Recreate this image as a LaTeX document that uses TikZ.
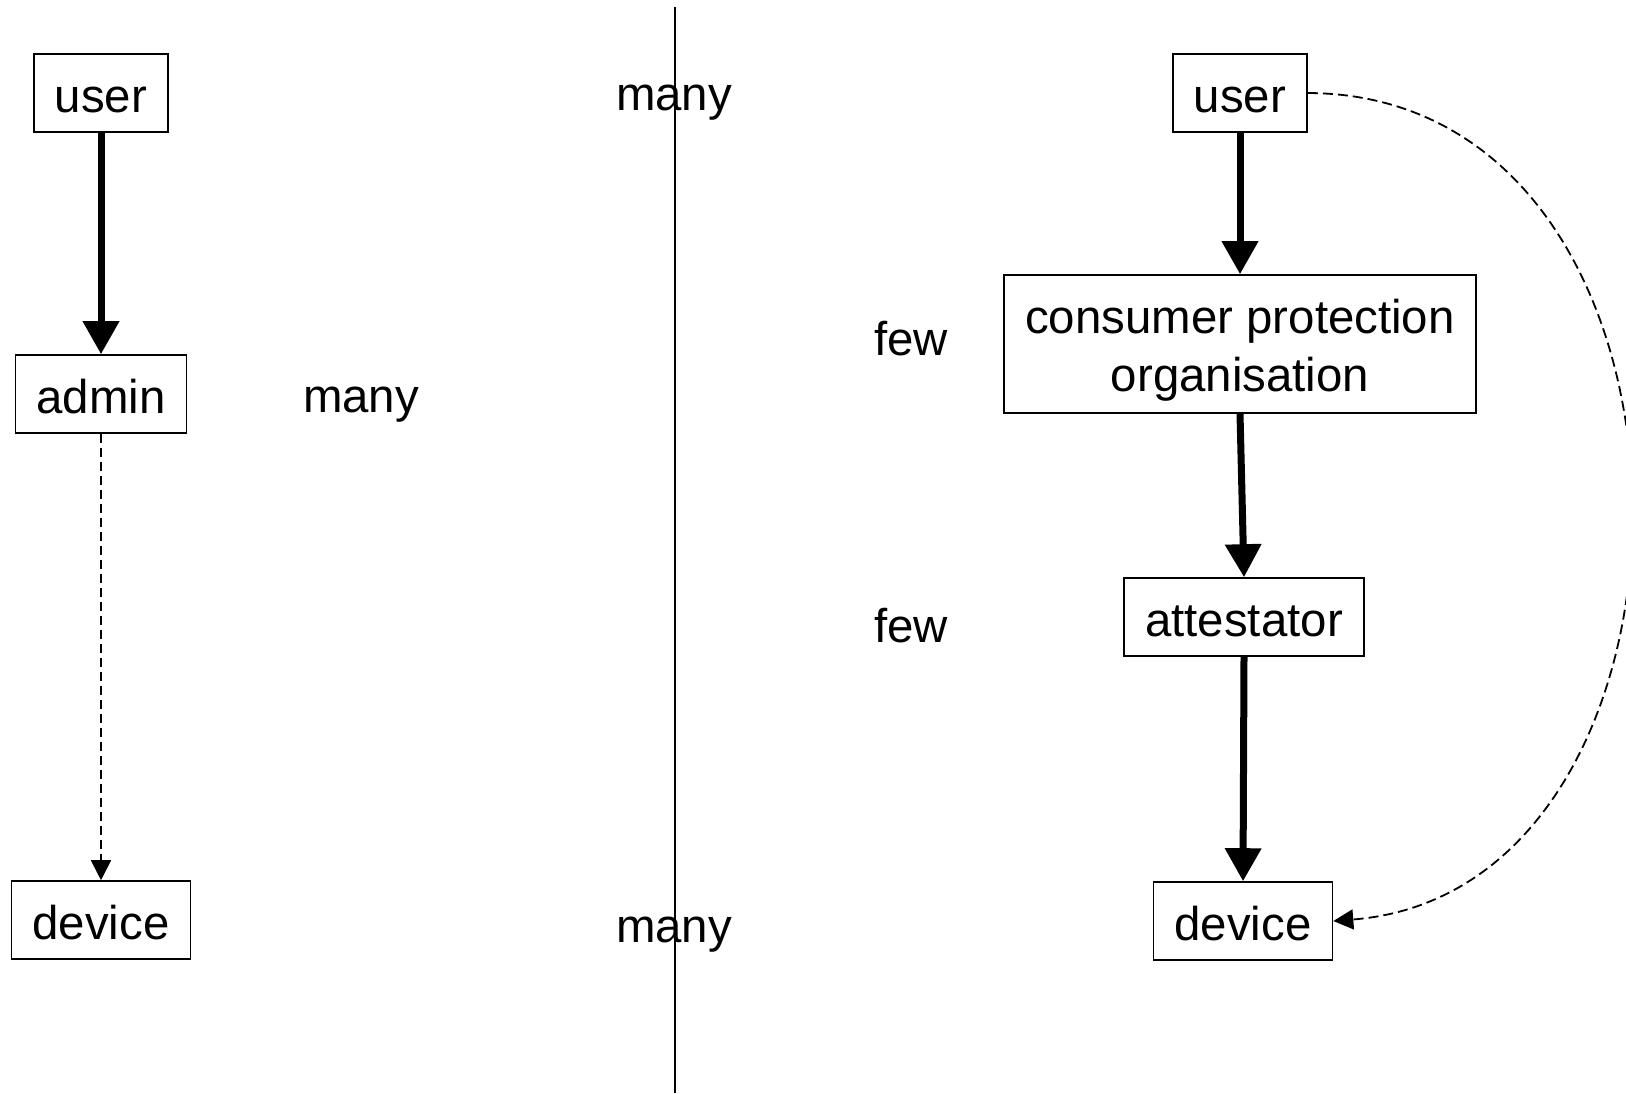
\documentclass[tikz,border=0pt]{standalone}
\usepackage{fontspec}
\setmainfont{Liberation Sans}
\usetikzlibrary{arrows.meta}

\begin{document}
\begin{tikzpicture}[x=0.5pt,y=-0.5pt,
  txt/.style={font=\fontsize{23.7}{29}\selectfont},
  box/.style={txt,draw,line width=0.8pt,inner xsep=10.5pt},
  word/.style={box,minimum height=39pt,text height=21.2pt,text depth=1.6pt},
  lbl/.style={txt,anchor=base},
  flow/.style={line width=3.5pt,-{Triangle[width=17.5pt,length=16.5pt]}},
  link/.style={line width=0.9pt,dash pattern=on 4.5pt off 2.5pt,-{Triangle[width=10pt,length=10pt]}}]
\useasboundingbox (0,0) rectangle (1626,1093);

% Divider
\coordinate (divtop) at (675,7);
\coordinate (divbot) at (675,1093);
\draw[line width=0.9pt] (divtop) -- (divbot);

% Left side
\node[word] (luser) at (101,93) {user};
\node[word] (ladmin) at (101,394) {admin};
\node[word] (ldevice) at (101,920) {device};
\node[lbl] (lmany) at (361,412) {many};

% Middle labels
\node[lbl] (topmany) at (674,110) {many};
\node[lbl] (botmany) at (674,942) {many};

% Right side
\node[box,align=center,minimum height=69pt] (cpo) at (1240,344) {\rule{0pt}{23pt}consumer protection\\organisation};
\node[word] (ruser) at (1240,93) {user};
\node[word] (att) at (1244,617) {attestator};
\node[word] (rdevice) at (1243,921) {device};
\node[lbl] (fewcpo) at (911,355) {few};
\node[lbl] (fewatt) at (911,642) {few};

% Arrows
\draw[flow] (luser.south) -- (ladmin.north);
\draw[link] (ladmin.south) -- (ldevice.north);

\draw[flow] (ruser.south) -- (cpo.north);
\draw[flow] (cpo.south) -- (att.north);
\draw[flow] (att.south) -- (rdevice.north);
\draw[link,dash pattern=on 5pt off 2.5pt] (ruser.east) .. controls (1733,95) and (1733,890) .. (rdevice.east);

\end{tikzpicture}
\end{document}
